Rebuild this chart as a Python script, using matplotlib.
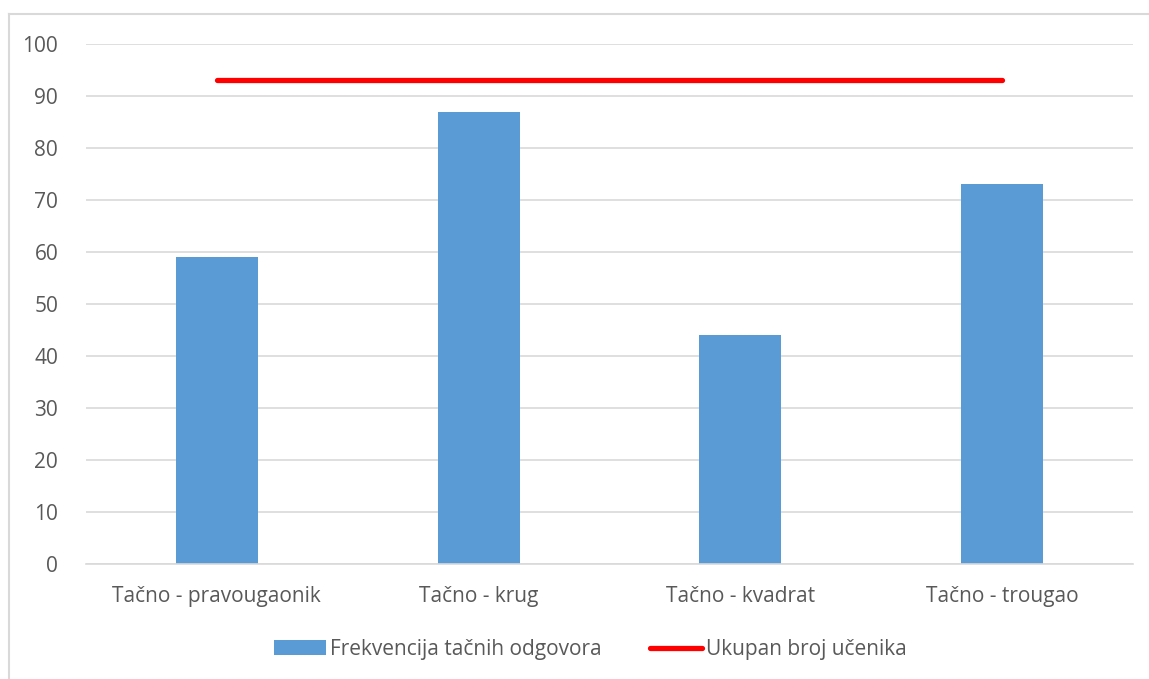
import numpy as np
import matplotlib.pyplot as plt
from matplotlib.lines import Line2D

categories = ["Tačno - pravougaonik", "Tačno - krug", "Tačno - kvadrat", "Tačno - trougao"]
correct = [59, 87, 44, 73]
total_students = [93, 93, 93, 93]

bar_color = "#5B9BD5"
line_color = "#FF0000"
text_color = "#595959"
grid_color = "#D9D9D9"

plt.rcParams['font.family'] = ['Open Sans', 'DejaVu Sans']

fig = plt.figure(figsize=(11.49, 6.79), dpi=100)
ax = fig.add_axes([0.0748, 0.1694, 0.9112, 0.7658])

# outer chart border: only the top and left edges fall inside the image
bx, by = 9 / 1149, 1 - 14 / 679
fig.add_artist(Line2D([bx, 1.0], [by, by], transform=fig.transFigure, color=grid_color, linewidth=1.5))
fig.add_artist(Line2D([bx, bx], [0.0, by], transform=fig.transFigure, color=grid_color, linewidth=1.5))

x = np.arange(len(categories))
bars = ax.bar(x, correct, width=0.313, color=bar_color, zorder=2, label="Frekvencija tačnih odgovora")
line, = ax.plot(x, total_students, color=line_color, linewidth=3.8, solid_capstyle='round', zorder=3,
                label="Ukupan broj učenika")

ax.set_xlim(-0.5, len(categories) - 0.5)
ax.set_ylim(0, 100)
ax.set_yticks(np.arange(0, 101, 10))
ax.set_xticks(x)
ax.set_xticklabels(categories)
ax.yaxis.grid(True, color=grid_color, linewidth=1.2, zorder=0)
ax.set_axisbelow(True)

for side in ["top", "right", "left"]:
    ax.spines[side].set_visible(False)
ax.spines["bottom"].set_color(grid_color)
ax.spines["bottom"].set_linewidth(1.2)

ax.tick_params(axis='both', length=0, colors=text_color, labelsize=15)
ax.tick_params(axis='x', pad=16)
ax.tick_params(axis='y', pad=20)

ax.legend(handles=[bars, line], loc='upper center', bbox_to_anchor=(0.482, -0.108), ncol=2,
          frameon=False, fontsize=15, labelcolor=text_color, handlelength=2.5,
          handletextpad=0.2, columnspacing=2.3)

fig.savefig("out.png", dpi=100)
